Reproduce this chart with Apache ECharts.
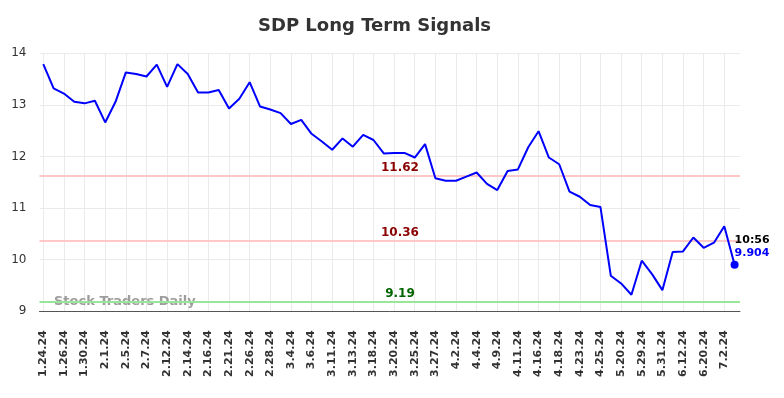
<!DOCTYPE html>
<html>
<head>
<meta charset="utf-8">
<script src="https://cdn.jsdelivr.net/npm/echarts@6/dist/echarts.min.js"></script>
<style>
  html, body { margin: 0; padding: 0; background: #fff; }
  #chart { width: 784px; height: 398px; }
</style>
</head>
<body>
<div id="chart"></div>
<script>
// dates (every other one is shown on the axis)
const dates = [
  "1.24.24", "1.25.24", "1.26.24", "1.29.24", "1.30.24", "1.31.24", "2.1.24", "2.2.24",
  "2.5.24", "2.6.24", "2.7.24", "2.9.24", "2.12.24", "2.13.24", "2.14.24", "2.15.24",
  "2.16.24", "2.20.24", "2.21.24", "2.23.24", "2.26.24", "2.27.24", "2.28.24", "3.1.24",
  "3.4.24", "3.5.24", "3.6.24", "3.8.24", "3.11.24", "3.12.24", "3.13.24", "3.15.24",
  "3.18.24", "3.19.24", "3.20.24", "3.22.24", "3.25.24", "3.26.24", "3.27.24", "4.1.24",
  "4.2.24", "4.3.24", "4.4.24", "4.8.24", "4.9.24", "4.10.24", "4.11.24", "4.15.24",
  "4.16.24", "4.17.24", "4.18.24", "4.22.24", "4.23.24", "4.24.24", "4.25.24", "5.17.24",
  "5.20.24", "5.28.24", "5.29.24", "5.30.24", "5.31.24", "6.11.24", "6.12.24", "6.18.24",
  "6.20.24", "6.28.24", "7.2.24", "7.3.24"
];
const prices = [
  13.79, 13.32, 13.22, 13.06, 13.03, 13.08, 12.66, 13.06, 13.63, 13.60,
  13.55, 13.78, 13.35, 13.79, 13.60, 13.24, 13.24, 13.29, 12.93, 13.12,
  13.44, 12.97, 12.91, 12.84, 12.63, 12.71, 12.44, 12.29, 12.13, 12.35,
  12.19, 12.42, 12.32, 12.06, 12.07, 12.07, 11.98, 12.24, 11.58, 11.53,
  11.53, 11.61, 11.69, 11.47, 11.35, 11.72, 11.75, 12.18, 12.49, 11.98,
  11.85, 11.32, 11.22, 11.06, 11.02, 9.69, 9.54, 9.32, 9.98, 9.72,
  9.41, 10.15, 10.16, 10.43, 10.23, 10.33, 10.65, 9.904
];
const signalValues = [11.62, 10.36, 9.19];
const signalLineColors = ["#ffc8c8", "#ffc8c8", "#99e699"];
const signalTextColors = ["#8b0000", "#8b0000", "#006400"];
const lastTime = "10:56";
const yTicks = [9, 10, 11, 12, 13, 14];

const lastIdx = prices.length - 1;
const chart = echarts.init(document.getElementById("chart"));

chart.setOption({
  animation: false,
  title: {
    text: "SDP Long Term Signals",
    left: 258,
    top: 17,
    padding: 0,
    textStyle: { color: "#333", fontSize: 18, fontWeight: "bold", fontFamily: "DejaVu Sans" }
  },
  graphic: [{
    type: "text",
    left: 54,
    top: 295,
    z: 1,
    style: {
      text: "Stock Traders Daily",
      fill: "rgba(140,140,140,0.85)",
      font: "bold 13px DejaVu Sans"
    }
  }],
  grid: [
    // data grid
    { left: 43.3, right: 49.4, top: 53.3, bottom: 86.7 },
    // background grid (full width)
    { left: 39.5, right: 44, top: 53.3, bottom: 86.7 }
  ],
  xAxis: [
    {
      type: "category",
      gridIndex: 0,
      data: dates,
      boundaryGap: false,
      axisLine: { show: false },
      axisTick: { show: false },
      axisLabel: {
        interval: 1,
        rotate: 90,
        margin: 19,
        color: "#333",
        fontSize: 11,
        fontWeight: "bold",
        fontFamily: "DejaVu Sans"
      },
      splitLine: { show: true, interval: 1, lineStyle: { color: "#eaeaea", width: 1 } }
    },
    {
      type: "value",
      gridIndex: 1,
      min: 0,
      max: 1,
      axisLine: { show: true, lineStyle: { color: "#555", width: 1 } },
      axisTick: { show: false },
      axisLabel: { show: false },
      splitLine: { show: false }
    }
  ],
  yAxis: [
    { type: "value", gridIndex: 0, min: 9, max: 14, show: false },
    {
      type: "value",
      gridIndex: 1,
      min: yTicks[0],
      max: yTicks[yTicks.length - 1],
      interval: 1,
      axisLine: { show: false },
      axisTick: { show: false },
      axisLabel: { color: "#333", fontSize: 12, margin: 13, fontFamily: "DejaVu Sans" },
      splitLine: { lineStyle: { color: "#eaeaea", width: 1 } }
    }
  ],
  series: [
    {
      name: "levels",
      type: "scatter",
      xAxisIndex: 1,
      yAxisIndex: 1,
      symbolSize: 0,
      z: 3,
      itemStyle: { opacity: 1 },
      data: signalValues.map(function (v, i) {
        return {
          value: [0.5146, v],
          label: { color: signalTextColors[i] }
        };
      }),
      label: {
        show: true,
        position: "top",
        distance: 2,
        fontSize: 12,
        fontWeight: "bold",
        fontFamily: "DejaVu Sans",
        formatter: function (p) { return p.value[1].toFixed(2); }
      },
      markLine: {
        silent: true,
        symbol: "none",
        z: 2,
        label: { show: false },
        data: signalValues.map(function (v, i) {
          return { yAxis: v, lineStyle: { color: signalLineColors[i], width: 2, type: "solid" } };
        })
      }
    },
    {
      name: "SDP",
      type: "line",
      xAxisIndex: 0,
      yAxisIndex: 0,
      data: prices,
      showSymbol: false,
      z: 10,
      lineStyle: { color: "#0000ff", width: 2 },
      itemStyle: { color: "#0000ff" },
      markPoint: {
        z: 11,
        symbol: "circle",
        symbolSize: 8,
        itemStyle: { color: "#0000ff" },
        label: {
          show: true,
          position: "right",
          offset: [-9, -18],
          formatter: "{t|" + lastTime + "}\n{v|" + prices[lastIdx] + "}",
          rich: {
            t: { color: "#000", fontSize: 11, fontWeight: "bold", lineHeight: 13, fontFamily: "DejaVu Sans" },
            v: { color: "#0000ff", fontSize: 11, fontWeight: "bold", lineHeight: 13, fontFamily: "DejaVu Sans" }
          }
        },
        data: [{ coord: [lastIdx, prices[lastIdx]] }]
      }
    }
  ]
});
</script>
</body>
</html>
